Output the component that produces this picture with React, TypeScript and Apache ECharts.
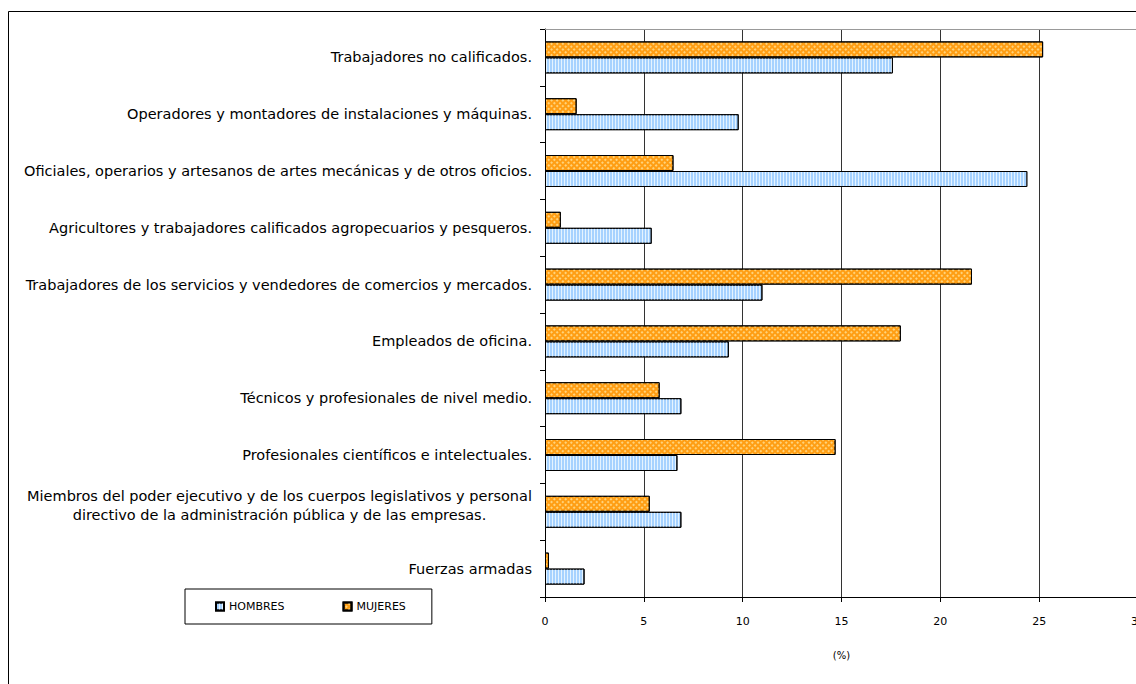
import React, { useEffect, useRef } from "react";
import * as echarts from "echarts";

// Occupational groups, listed top to bottom
const categories: string[] = [
  "Trabajadores no calificados.",
  "Operadores y montadores de instalaciones y máquinas.",
  "Oficiales, operarios y artesanos de artes mecánicas y de otros oficios.",
  "Agricultores y trabajadores calificados agropecuarios y pesqueros.",
  "Trabajadores de los servicios y vendedores de comercios y mercados.",
  "Empleados de oficina.",
  "Técnicos y profesionales de nivel medio.",
  "Profesionales científicos e intelectuales.",
  "Miembros del poder ejecutivo y de los cuerpos legislativos y personal\ndirectivo de la administración pública y de las empresas.",
  "Fuerzas armadas",
];

// Share of employed population (%)
const hombres: number[] = [17.6, 9.8, 24.4, 5.4, 11.0, 9.3, 6.9, 6.7, 6.9, 2.0];
const mujeres: number[] = [25.2, 1.6, 6.5, 0.8, 21.6, 18.0, 5.8, 14.7, 5.3, 0.2];

const xTicks = { min: 0, max: 30, interval: 5 };
const axisName = "(%)";

const FONT = "'DejaVu Sans', Tahoma, Verdana, sans-serif";
const LABEL_SIZE = 14.5;

// Width of the widest line of a multi-line label, so its lines can be centred
function widestLine(text: string): number {
  const ctx = document.createElement("canvas").getContext("2d");
  if (!ctx) return 510;
  ctx.font = `${LABEL_SIZE}px ${FONT}`;
  return Math.ceil(Math.max(...text.split("\n").map((l) => ctx.measureText(l).width)));
}

export default function App() {
  const ref = useRef<HTMLDivElement>(null);

  useEffect(() => {
    if (!ref.current) return;
    const chart = echarts.init(ref.current, null, { renderer: "svg" });

    const multi = categories.find((c) => c.includes("\n")) || "";
    const blockWidth = widestLine(multi);

    const hombresStyle = {
      color: "#a6d2ff",
      borderColor: "#000",
      borderWidth: 1,
      decal: {
        symbol: "rect",
        symbolSize: 1,
        color: "rgba(232,244,255,0.95)",
        dashArrayX: [1, 2],
        dashArrayY: [20, 0],
        rotation: 0,
      },
    };
    const mujeresStyle = {
      color: "#ff9e14",
      borderColor: "#000",
      borderWidth: 1,
      decal: {
        symbol: "rect",
        symbolSize: 1,
        color: "rgba(255,220,140,0.85)",
        dashArrayX: [2, 2],
        dashArrayY: [2, 2],
        rotation: Math.PI / 4,
      },
    };

    chart.setOption({
      animation: false,
      backgroundColor: "#fff",
      textStyle: { fontFamily: FONT },
      graphic: [
        {
          type: "rect",
          silent: true,
          z: -10,
          shape: { x: 8.5, y: 11.5, width: 1300, height: 900 },
          style: { fill: "none", stroke: "#000", lineWidth: 1 },
        },
      ],
      legend: {
        data: ["HOMBRES", "MUJERES"],
        left: 185,
        top: 589,
        orient: "horizontal",
        icon: "rect",
        itemWidth: 8,
        itemHeight: 8,
        itemGap: 58,
        padding: [12, 26, 12, 30],
        borderColor: "#000",
        borderWidth: 1,
        textStyle: { fontSize: 11, color: "#000", fontFamily: FONT },
      },
      grid: {
        left: 545,
        top: 29,
        width: 593,
        height: 568,
        containLabel: false,
        outerBoundsMode: "none",
      },
      xAxis: [
        {
          type: "value",
          position: "bottom",
          min: xTicks.min,
          max: xTicks.max,
          interval: xTicks.interval,
          name: axisName,
          nameLocation: "middle",
          nameGap: 53,
          nameTextStyle: { fontSize: 10, color: "#000", fontFamily: FONT },
          axisLine: { show: true, lineStyle: { color: "#000", width: 1 } },
          axisTick: { show: true, length: 5, lineStyle: { color: "#000" } },
          axisLabel: { fontSize: 11, color: "#000", margin: 19, fontFamily: FONT },
          splitLine: { show: true, lineStyle: { color: "#333", width: 1 } },
        },
        {
          type: "value",
          position: "top",
          min: xTicks.min,
          max: xTicks.max,
          interval: xTicks.interval,
          axisLine: { show: true, lineStyle: { color: "#999", width: 1 } },
          axisTick: { show: false },
          axisLabel: { show: false },
          splitLine: { show: false },
        },
      ],
      yAxis: {
        type: "category",
        data: categories,
        inverse: true,
        axisLine: { show: true, lineStyle: { color: "#000", width: 1 } },
        axisTick: { show: true, length: 5, lineStyle: { color: "#000" } },
        axisLabel: {
          color: "#000",
          fontSize: LABEL_SIZE,
          fontFamily: FONT,
          margin: 13,
          lineHeight: 19,
          formatter: (v: string) =>
            v.includes("\n")
              ? v
                  .split("\n")
                  .map((l) => `{c|${l}}`)
                  .join("\n") + "\n{e|}"
              : v,
          rich: {
            c: {
              width: blockWidth,
              align: "center",
              fontSize: LABEL_SIZE,
              lineHeight: 19,
              color: "#000",
              fontFamily: FONT,
            },
            e: { lineHeight: 12, fontSize: 1 },
          },
        },
        splitLine: { show: false },
      },
      series: [
        {
          name: "MUJERES",
          type: "bar",
          data: mujeres,
          barWidth: 16,
          barGap: "0%",
          itemStyle: mujeresStyle,
        },
        {
          name: "HOMBRES",
          type: "bar",
          data: hombres,
          barWidth: 16,
          barGap: "0%",
          itemStyle: hombresStyle,
        },
      ],
    });

    return () => chart.dispose();
  }, []);

  return (
    <div
      ref={ref}
      style={{ position: "absolute", left: 0, top: 0, width: 1136, height: 684, background: "#fff" }}
    />
  );
}
